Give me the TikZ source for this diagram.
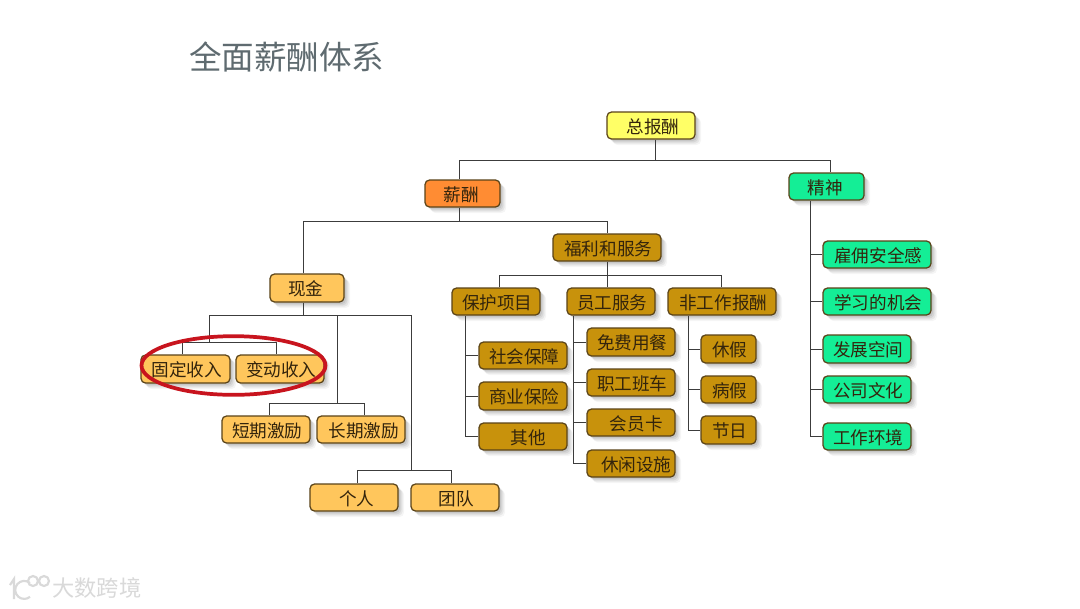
\documentclass[tikz,border=0pt]{standalone}
\usepackage{fontspec}
\setmainfont{Noto Sans CJK SC}
\usetikzlibrary{shapes.geometric,shadows,calc}
\definecolor{linec}{HTML}{3C3C3C}
\definecolor{edgec}{HTML}{5A4318}
\definecolor{txtc}{HTML}{33240C}
\definecolor{cyel}{HTML}{FFFF66}
\definecolor{cora}{HTML}{FF8C33}
\definecolor{cgol}{HTML}{C8920C}
\definecolor{clig}{HTML}{FFC65C}
\definecolor{cgre}{HTML}{14EE96}
\definecolor{ctit}{HTML}{5F6B70}
\definecolor{cred}{HTML}{C8141E}
\definecolor{cwm}{HTML}{D9D9D9}
\tikzset{
  softshadow/.style={
    general shadow={shadow xshift=1.5pt,shadow yshift=-1.5pt,fill=black,opacity=.07},
    general shadow={shadow xshift=2.5pt,shadow yshift=-2.5pt,fill=black,opacity=.07},
    general shadow={shadow xshift=3.5pt,shadow yshift=-3.5pt,fill=black,opacity=.06},
    general shadow={shadow xshift=4.5pt,shadow yshift=-4.5pt,fill=black,opacity=.04}},
  boxbase/.style={draw=edgec,line width=.95pt,rounded corners=3.4pt,text=txtc,inner sep=0pt,
    font=\fontsize{13.2pt}{15pt}\selectfont,softshadow},
  yelbox/.style={boxbase,fill=cyel},
  orabox/.style={boxbase,fill=cora},
  golbox/.style={boxbase,fill=cgol},
  ligbox/.style={boxbase,fill=clig},
  grebox/.style={boxbase,fill=cgre},
  conn/.style={draw=linec,line width=.65pt},
  redring/.style={ellipse,draw=cred,line width=2.8pt,inner sep=0pt},
  titletext/.style={text=ctit,font=\fontsize{24.4pt}{28pt}\selectfont,inner sep=0pt},
  marktext/.style={text=cwm,font=\fontsize{16.7pt}{18pt}\selectfont,inner sep=0pt},
  markline/.style={draw=cwm,line width=1.6pt}
}
\newcommand{\bx}[7]{%
  \pgfmathsetmacro{\cxx}{(#2+#4)/2}\pgfmathsetmacro{\cyy}{(#3+#5)/2}%
  \pgfmathsetmacro{\ww}{(#4-#2)*0.75}\pgfmathsetmacro{\hh}{(#5-#3)*0.75}%
  \node[#6,minimum width=\ww pt,minimum height=\hh pt] (#1) at (\cxx,\cyy) {\raisebox{-5.7pt}[0pt][0pt]{\hspace*{2pt}#7}};}
\begin{document}
\begin{tikzpicture}[x=0.75pt,y=-0.75pt]
\useasboundingbox (0,0) rectangle (1080,608);
\fill[white] (0,0) rectangle (1080,608);
% title
\node[titletext,anchor=west] (title) at (189,57) {全面薪酬体系};
% boxes
\bx{zb}{607}{112}{695}{139}{yelbox}{\hspace*{1pt}总报酬}
\bx{xc}{425}{180}{500}{207}{orabox}{\hspace*{-4pt}薪酬}
\bx{js}{789}{173}{864}{200}{grebox}{\hspace*{-4pt}精神}
\bx{fl}{553}{234}{661}{261}{golbox}{福利和服务}
\bx{xj}{270}{274}{344}{302}{ligbox}{\hspace*{-4pt}现金}
\bx{bh}{452}{288}{540}{315}{golbox}{保护项目}
\bx{yg}{567}{288}{655}{315}{golbox}{员工服务}
\bx{fg}{668}{288}{776}{315}{golbox}{非工作报酬}
\bx{sh}{479}{342}{567}{369}{golbox}{社会保障}
\bx{sy}{479}{382}{567}{410}{golbox}{商业保险}
\bx{qt}{479}{423}{567}{450}{golbox}{\hspace*{6pt}其他}
\bx{mf}{587}{328}{675}{356}{golbox}{免费用餐}
\bx{zg}{587}{369}{675}{396}{golbox}{职工班车}
\bx{hy}{587}{409}{675}{436}{golbox}{\hspace*{6pt}会员卡}
\bx{xx}{587}{450}{675}{477}{golbox}{\hspace*{6pt}休闲设施}
\bx{xjia}{701}{335}{756}{363}{golbox}{休假}
\bx{bj}{701}{376}{756}{403}{golbox}{病假}
\bx{jr}{701}{416}{756}{444}{golbox}{节日}
\bx{gd}{141}{355}{230}{383}{ligbox}{固定收入}
\bx{bd}{236}{355}{324}{383}{ligbox}{变动收入}
\bx{dq}{222}{416}{310}{443}{ligbox}{短期激励}
\bx{cq}{317}{416}{405}{443}{ligbox}{\hspace*{2pt}长期激励}
\bx{gr}{310}{484}{398}{511}{ligbox}{\hspace*{2pt}个人}
\bx{td}{411}{484}{499}{511}{ligbox}{团队}
\bx{gy}{823}{241}{931}{268}{grebox}{雇佣安全感}
\bx{xi}{823}{288}{931}{315}{grebox}{学习的机会}
\bx{fz}{823}{335}{911}{363}{grebox}{发展空间}
\bx{gs}{823}{376}{911}{403}{grebox}{公司文化}
\bx{gz}{823}{423}{911}{450}{grebox}{工作环境}
% junction coordinates
\coordinate (j1) at (655,160);
\coordinate (j2) at (459,221);
\coordinate (j3) at (303,315);
\coordinate (j4) at (607,275);
\coordinate (j5) at (209,342);
\coordinate (j6) at (337,403);
\coordinate (j7) at (411,470);
% top levels
\draw[conn] (j1 |- zb.south) -- (j1);
\draw[conn] (j2 |- xc.north) -- (j2 |- j1) -- (830,0 |- j1) -- (830,0 |- js.north);
\draw[conn] (j2 |- xc.south) -- (j2);
\draw[conn] (j3 |- xj.north) -- (j3 |- j2) -- (j4 |- j2) -- (j4 |- fl.north);
\draw[conn] (j4 |- fl.south) -- (j4);
\draw[conn] (499,0 |- bh.north) -- (499,0 |- j4) -- (721,0 |- j4) -- (721,0 |- fg.north);
\draw[conn] (j4 |- yg.north) -- (j4);
% cash branch
\draw[conn] (j3 |- xj.south) -- (j3);
\draw[conn] (j5) -- (j5 |- j3) -- (j7 |- j3) -- (j7);
\draw[conn] (182,0 |- gd.north) -- (182,0 |- j5) -- (276,0 |- j5) -- (276,0 |- bd.north);
\draw[conn] (j6 |- j3) -- (j6);
\draw[conn] (269,0 |- dq.north) -- (269,0 |- j6) -- (364,0 |- j6) -- (364,0 |- cq.north);
\draw[conn] (357,0 |- gr.north) -- (357,0 |- j7) -- (451,0 |- j7) -- (451,0 |- td.north);
% side trees
\draw[conn] (465,0 |- bh.south) -- (465,0 |- qt.west) -- (qt.west);
\draw[conn] (465,0 |- sh.west) -- (sh.west);
\draw[conn] (465,0 |- sy.west) -- (sy.west);
\draw[conn] (573,0 |- yg.south) -- (573,0 |- xx.west) -- (xx.west);
\draw[conn] (573,0 |- mf.west) -- (mf.west);
\draw[conn] (573,0 |- zg.west) -- (zg.west);
\draw[conn] (573,0 |- hy.west) -- (hy.west);
\draw[conn] (688,0 |- fg.south) -- (688,0 |- jr.west) -- (jr.west);
\draw[conn] (688,0 |- xjia.west) -- (xjia.west);
\draw[conn] (688,0 |- bj.west) -- (bj.west);
\draw[conn] (810,0 |- js.south) -- (810,0 |- gz.west) -- (gz.west);
\draw[conn] (810,0 |- gy.west) -- (gy.west);
\draw[conn] (810,0 |- xi.west) -- (xi.west);
\draw[conn] (810,0 |- fz.west) -- (fz.west);
\draw[conn] (810,0 |- gs.west) -- (gs.west);
% red ring
\node[redring,minimum width=138pt,minimum height=44pt] (ring) at (233.5,365.5) {};
% watermark
\node[marktext,anchor=west] (wm) at (52,588) {大数跨境};
\draw[markline] (10,585) -- (14,579) -- (14,599);
\draw[markline] (30,583) arc (-50:-310:9);
\draw[markline] (33,581) circle (5) (44,581) circle (5);
\end{tikzpicture}
\end{document}
